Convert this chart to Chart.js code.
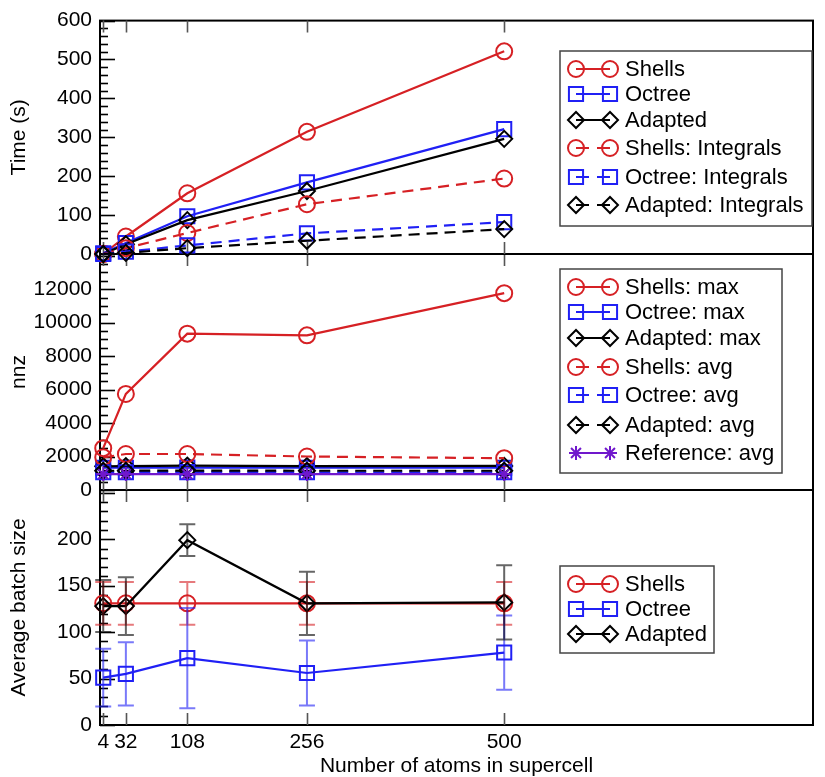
<!DOCTYPE html>
<html><head><meta charset="utf-8">
<script src="https://cdn.jsdelivr.net/npm/chart.js@4.4.0/dist/chart.umd.min.js"></script>
<style>html,body{margin:0;padding:0;background:#fff;width:825px;height:777px;overflow:hidden;} canvas{position:absolute;left:0;top:0;}</style>
</head><body>
<canvas id="c3" width="825" height="777"></canvas>
<canvas id="c2" width="825" height="777"></canvas>
<canvas id="c1" width="825" height="777"></canvas>
<script>
// ---------- data ----------
const atoms = [4, 32, 108, 256, 500];
const xTickLabels = ['4', '32', '108', '256', '500'];

// panel 1: Time (s)
const shellsTime     = [0, 45, 156, 314, 521];
const octreeTime     = [2, 28, 97, 184, 321];
const adaptedTime    = [0, 25, 87, 162, 296];
const shellsIntTime  = [0, 15, 54, 128, 194];
const octreeIntTime  = [0, 6, 22, 53, 82];
const adaptedIntTime = [0, 3, 15, 34, 64];
const timeTicks = [0, 100, 200, 300, 400, 500, 600];

// panel 2: nnz
const shellsMax    = [2500, 5740, 9340, 9240, 11760];
const octreeMax    = [1330, 1330, 1340, 1330, 1330];
const adaptedMax   = [1420, 1430, 1460, 1430, 1440];
const shellsAvg    = [1950, 2150, 2150, 2000, 1900];
const octreeAvg    = [1060, 1060, 1070, 1060, 1060];
const adaptedAvg   = [1150, 1150, 1160, 1150, 1150];
const referenceAvg = [950, 950, 950, 950, 950];
const nnzTicks = [0, 2000, 4000, 6000, 8000, 10000, 12000];

// panel 3: Average batch size (value, +/- error)
const shellsBatch     = [131, 131, 131, 131, 131];
const shellsBatchErr  = [23, 23, 23, 23, 23];
const octreeBatch     = [51, 55, 72, 56, 78];
const octreeBatchErr  = [31, 34, 54, 35, 40];
const adaptedBatch    = [128, 128, 199, 131, 132];
const adaptedBatchErr = [28, 31, 17, 34, 40];
const batchTicks = [0, 50, 100, 150, 200];

// ---------- styles ----------
const RED = 'rgb(214,32,36)', BLUE = 'rgb(32,32,245)', BLACK = '#000', PURPLE = 'rgb(112,24,204)';
const FONT = 'Liberation Sans, Arial, Helvetica, sans-serif';
Chart.defaults.font.family = FONT;
Chart.defaults.color = '#000';

const STY = {
  circle: {pointStyle: 'circle', pointRadius: 8},
  rect: {pointStyle: 'rect', pointRadius: 10},
  diamond: {pointStyle: 'rectRot', pointRadius: 8},
  star: {pointStyle: 'star', pointRadius: 7}
};

function ds(label, data, color, shape, dashed, err) {
  const s = STY[shape];
  return {
    label, data: atoms.map((x, i) => ({x, y: data[i]})),
    err: err || null,
    borderColor: color, backgroundColor: color,
    pointBorderColor: color, pointBackgroundColor: 'rgba(0,0,0,0)',
    pointStyle: s.pointStyle, pointRadius: s.pointRadius, pointHoverRadius: s.pointRadius,
    pointBorderWidth: 2, borderWidth: 2.2,
    borderDash: dashed ? [11, 7] : [],
    tension: 0, clip: false, fill: false
  };
}

// frame + ticks plugin
const framePlugin = {
  id: 'frame',
  beforeDatasetsDraw(chart, args, opts) {
    const {ctx, chartArea: a} = chart;
    const xs = chart.scales.x, ys = chart.scales.y;
    ctx.save();
    ctx.strokeStyle = '#000';
    ctx.lineWidth = 2;
    ctx.strokeRect(a.left, a.top, a.right - a.left, a.bottom - a.top);
    ctx.lineWidth = 1.6;
    for (let v = ys.min; v <= ys.max + 1e-9; v += opts.minor) {
      const y = Math.round(ys.getPixelForValue(v)) + 0.5;
      const major = Math.abs(v / opts.major - Math.round(v / opts.major)) < 1e-6;
      ctx.beginPath();
      ctx.moveTo(a.left, y);
      ctx.lineTo(a.left + (major ? 15 : 8), y);
      ctx.stroke();
    }
    ctx.strokeStyle = '#555';
    ctx.lineWidth = 1.6;
    atoms.forEach(v => {
      const x = Math.round(xs.getPixelForValue(v)) + 0.5;
      ctx.beginPath();
      ctx.moveTo(x, a.top); ctx.lineTo(x, a.top + 12);
      ctx.moveTo(x, a.bottom); ctx.lineTo(x, a.bottom - 12);
      ctx.stroke();
    });
    ctx.restore();
  }
};

// error bars plugin
const errPlugin = {
  id: 'errbars',
  afterDatasetsDraw(chart) {
    const {ctx} = chart;
    const xs = chart.scales.x, ys = chart.scales.y;
    ctx.save();
    chart.data.datasets.forEach(d => {
      if (!d.err) return;
      ctx.strokeStyle = d.borderColor;
      ctx.globalAlpha = 0.6;
      ctx.lineWidth = 2;
      ctx.setLineDash([]);
      d.data.forEach((p, i) => {
        const x = xs.getPixelForValue(p.x);
        const y1 = ys.getPixelForValue(p.y + d.err[i]);
        const y2 = ys.getPixelForValue(p.y - d.err[i]);
        ctx.beginPath();
        ctx.moveTo(x, y1); ctx.lineTo(x, y2);
        ctx.moveTo(x - 8, y1); ctx.lineTo(x + 8, y1);
        ctx.moveTo(x - 8, y2); ctx.lineTo(x + 8, y2);
        ctx.stroke();
      });
    });
    ctx.restore();
  }
};

// custom in-panel legend
const legendPlugin = {
  id: 'panelLegend',
  afterDraw(chart, args, opts) {
    const {ctx} = chart;
    const [bx, by, bw, bh] = opts.box;
    ctx.save();
    ctx.fillStyle = '#fff';
    ctx.fillRect(bx, by, bw, bh);
    ctx.strokeStyle = '#444';
    ctx.lineWidth = 1.5;
    ctx.strokeRect(bx, by, bw, bh);
    chart.data.datasets.forEach((d, i) => {
      const y = opts.rows[i];
      const x1 = bx + 16, x2 = bx + 50;
      ctx.strokeStyle = d.borderColor;
      ctx.lineWidth = 2.2;
      ctx.setLineDash(d.borderDash.length ? [13, 8] : []);
      ctx.beginPath(); ctx.moveTo(x1, y); ctx.lineTo(x2, y); ctx.stroke();
      ctx.setLineDash([]);
      ctx.fillStyle = 'rgba(0,0,0,0)';
      const po = {pointStyle: d.pointStyle, radius: d.pointRadius, rotation: 0, borderWidth: 2};
      ctx.lineWidth = 2;
      Chart.helpers.drawPoint(ctx, po, x1, y);
      ctx.strokeStyle = d.borderColor;
      Chart.helpers.drawPoint(ctx, po, x2, y);
      ctx.fillStyle = '#000';
      ctx.font = '22px ' + FONT;
      ctx.textBaseline = 'middle';
      ctx.textAlign = 'left';
      ctx.fillText(d.label, bx + 65, y + 1);
    });
    ctx.restore();
  }
};

function makeChart(id, datasets, cfg) {
  const bottom = !!cfg.xTitle;
  datasets.forEach((d, i) => d.order = datasets.length - i);
  return new Chart(document.getElementById(id), {
    type: 'line',
    data: {datasets},
    plugins: [framePlugin, errPlugin, legendPlugin],
    options: {
      responsive: false, animation: false, devicePixelRatio: 1,
      layout: {padding: {left: 0, right: 3, top: cfg.top, bottom: cfg.bottom}},
      plugins: {
        legend: {display: false}, tooltip: {enabled: false},
        frame: {major: cfg.major, minor: cfg.minor},
        panelLegend: {box: cfg.box, rows: cfg.rows}
      },
      scales: {
        x: {
          type: 'linear', min: 0, max: 882,
          afterBuildTicks: s => { s.ticks = atoms.map(v => ({value: v})); },
          afterFit: s => { s.height = bottom ? 52 : 0; },
          ticks: {display: bottom, autoSkip: false, maxRotation: 0, padding: 5,
                  font: {size: 21}, color: '#000',
                  callback: v => xTickLabels[atoms.indexOf(v)]},
          grid: {display: false, drawTicks: false},
          border: {display: false},
          title: bottom ? {display: true, text: cfg.xTitle, font: {size: 21, lineHeight: 1.0},
                           color: '#000', padding: {top: 0, bottom: 0}} : {display: false}
        },
        y: {
          type: 'linear', min: 0, max: cfg.ymax,
          afterBuildTicks: s => { s.ticks = cfg.yTicks.map(v => ({value: v})); },
          afterFit: s => { s.width = 100; },
          ticks: {padding: 8, font: {size: 21}, color: '#000', callback: v => String(v)},
          grid: {display: false, drawTicks: false},
          border: {display: false},
          title: {display: true, text: cfg.yTitle, font: {size: 21, lineHeight: 1.2},
                  color: '#000', padding: {top: 7, bottom: 0}}
        }
      }
    }
  });
}

makeChart('c1', [
  ds('Shells', shellsTime, RED, 'circle', false),
  ds('Octree', octreeTime, BLUE, 'rect', false),
  ds('Adapted', adaptedTime, BLACK, 'diamond', false),
  ds('Shells: Integrals', shellsIntTime, RED, 'circle', true),
  ds('Octree: Integrals', octreeIntTime, BLUE, 'rect', true),
  ds('Adapted: Integrals', adaptedIntTime, BLACK, 'diamond', true)
], {top: 19, bottom: 777 - 254, ymax: 600, yTicks: timeTicks, major: 100, minor: 20,
    yTitle: 'Time (s)', box: [560, 51, 252, 175], rows: [69, 94, 120, 148, 177, 205]});

makeChart('c2', [
  ds('Shells: max', shellsMax, RED, 'circle', false),
  ds('Octree: max', octreeMax, BLUE, 'rect', false),
  ds('Adapted: max', adaptedMax, BLACK, 'diamond', false),
  ds('Shells: avg', shellsAvg, RED, 'circle', true),
  ds('Octree: avg', octreeAvg, BLUE, 'rect', true),
  ds('Adapted: avg', adaptedAvg, BLACK, 'diamond', true),
  ds('Reference: avg', referenceAvg, PURPLE, 'star', false)
], {top: 254, bottom: 777 - 490, ymax: 14100, yTicks: nnzTicks, major: 2000, minor: 500,
    yTitle: 'nnz', box: [560, 269, 222, 204], rows: [287, 312, 338, 367, 395, 425, 453]});

makeChart('c3', [
  ds('Shells', shellsBatch, RED, 'circle', false, shellsBatchErr),
  ds('Octree', octreeBatch, BLUE, 'rect', false, octreeBatchErr),
  ds('Adapted', adaptedBatch, BLACK, 'diamond', false, adaptedBatchErr)
], {top: 490, bottom: 0, ymax: 253, yTicks: batchTicks, major: 50, minor: 10,
    yTitle: 'Average batch size', xTitle: 'Number of atoms in supercell',
    box: [560, 566, 154, 87], rows: [584, 609, 634]});
</script>
</body></html>
